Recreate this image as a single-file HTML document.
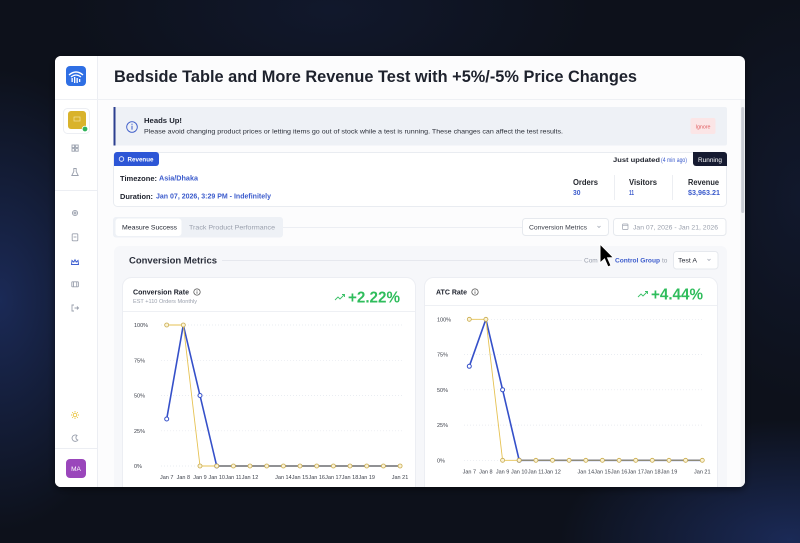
<!DOCTYPE html>
<html><head><meta charset="utf-8"><style>
html,body{margin:0;padding:0;}
body{width:800px;height:543px;overflow:hidden;background:#0d111b;
background-image:
radial-gradient(ellipse 140px 230px at 0px 300px, rgba(38,62,135,0.55), rgba(0,0,0,0)),
radial-gradient(ellipse 230px 120px at 790px 540px, rgba(38,62,135,0.55), rgba(0,0,0,0)),
radial-gradient(ellipse 260px 120px at 330px 10px, rgba(30,45,95,0.25), rgba(0,0,0,0)),
radial-gradient(ellipse 120px 200px at 800px 200px, rgba(30,45,95,0.25), rgba(0,0,0,0));}
svg{position:absolute;left:0;top:0;font-family:"Liberation Sans",sans-serif;}
</style></head><body>
<svg width="800" height="543" viewBox="0 0 800 543" xmlns="http://www.w3.org/2000/svg">
<defs>
<clipPath id="win"><rect x="55" y="56" width="690" height="431" rx="6"/></clipPath>
<filter id="sh" x="-10%" y="-10%" width="120%" height="120%"><feDropShadow dx="0" dy="2" stdDeviation="4" flood-color="#000" flood-opacity="0.5"/></filter>
</defs>
<rect x="55" y="56" width="690" height="431" rx="6" fill="#fcfcfd" filter="url(#sh)"/>
<g clip-path="url(#win)">
<!-- sidebar -->
<rect x="55" y="56" width="42" height="431" fill="#ffffff"/>
<line x1="97.5" y1="56" x2="97.5" y2="487" stroke="#eceef3" stroke-width="1"/>
<line x1="55" y1="99.5" x2="745" y2="99.5" stroke="#eef0f4" stroke-width="1"/>
<line x1="55" y1="190.5" x2="97" y2="190.5" stroke="#eceef3"/>
<line x1="55" y1="448.5" x2="97" y2="448.5" stroke="#eceef3"/>
<!-- logo -->
<rect x="66" y="66" width="20" height="20" rx="4" fill="#2f6fe4"/>
<path d="M69 75 Q76 69 83 75" stroke="#fff" stroke-width="1.4" fill="none"/>
<path d="M71 77 Q76 73 81 77" stroke="#fff" stroke-width="1.2" fill="none"/>
<rect x="71.5" y="78" width="1.3" height="4" fill="#fff"/><rect x="74" y="77" width="1.3" height="6" fill="#fff"/><rect x="76.5" y="78" width="1.3" height="5" fill="#fff"/><rect x="79" y="79" width="1.3" height="3" fill="#fff"/>
<!-- store avatar -->
<rect x="63.5" y="108.5" width="26" height="25" rx="4" fill="#fff" stroke="#eceef3"/>
<rect x="68" y="111" width="18" height="18" rx="3" fill="#d9b32c"/>
<rect x="74" y="117" width="6" height="4" fill="none" stroke="#f3e2a0" stroke-width="0.7"/>
<circle cx="85" cy="129" r="2.8" fill="#2fb35a" stroke="#fff" stroke-width="0.8"/>
<!-- icons -->
<g stroke="#9aa0ad" stroke-width="0.9" fill="none">
<rect x="72" y="145" width="2.6" height="2.6"/><rect x="75.6" y="145" width="2.6" height="2.6"/><rect x="72" y="148.6" width="2.6" height="2.6"/><rect x="75.6" y="148.6" width="2.6" height="2.6"/>
<path d="M73.8 168.5 v3 l-2 4 h6.4 l-2 -4 v-3 z"/>
<circle cx="75" cy="213" r="2.6"/><circle cx="75" cy="213" r="1"/>
<rect x="72.2" y="233.8" width="5.6" height="7" rx="0.8"/><line x1="73.6" y1="237" x2="76.4" y2="237"/>
<rect x="71.8" y="281.8" width="6.6" height="5" rx="0.6"/><line x1="73.5" y1="281.8" x2="73.5" y2="286.8"/><line x1="76.7" y1="281.8" x2="76.7" y2="286.8"/>
<path d="M74 305 h-2 v6 h2 M74.5 308 h4 M77 306.5 l1.5 1.5 l-1.5 1.5"/>
<path d="M77 435.5 a3.2 3.2 0 1 0 0.8 4.6 a2.6 2.6 0 0 1 -0.8 -4.6 z"/>
</g>
<path d="M71.5 264.5 l0.5 -4 l1.8 1.6 l1.2 -2.3 l1.2 2.3 l1.8 -1.6 l0.5 4 z" fill="none" stroke="#3e5fd0" stroke-width="1"/>
<g stroke="#e8c23a" stroke-width="0.9" fill="none"><circle cx="75" cy="415" r="1.8"/><path d="M75 411 v1 M75 418 v1 M71 415 h1 M78 415 h1 M72.2 412.2 l0.7 0.7 M77.1 417.1 l0.7 0.7 M72.2 417.8 l0.7 -0.7 M77.1 412.9 l0.7 -0.7"/></g>
<rect x="66" y="459" width="20" height="19" rx="4" fill="#9a46bb"/>
<text x="76" y="471" font-size="6.5" fill="#fff" text-anchor="middle">MA</text>

<!-- title -->
<text x="114" y="82" font-size="17" font-weight="bold" fill="#1e222d" textLength="523" lengthAdjust="spacingAndGlyphs">Bedside Table and More Revenue Test with +5%/-5% Price Changes</text>

<!-- banner -->
<rect x="114" y="107" width="613" height="38.5" rx="2" fill="#eef1f6"/>
<rect x="113.5" y="107" width="2" height="38.5" fill="#2c3f90"/>
<circle cx="132" cy="127" r="5.3" fill="none" stroke="#3d5cc9" stroke-width="0.9"/>
<line x1="132" y1="125.8" x2="132" y2="129.6" stroke="#3d5cc9" stroke-width="1"/><circle cx="132" cy="124.2" r="0.6" fill="#3d5cc9"/>
<text x="144" y="123" font-size="7.5" font-weight="bold" fill="#1e222d" textLength="38" lengthAdjust="spacingAndGlyphs">Heads Up!</text>
<text x="144" y="133.6" font-size="6.5" fill="#2a2e38" textLength="419" lengthAdjust="spacingAndGlyphs">Please avoid changing product prices or letting items go out of stock while a test is running. These changes can affect the test results.</text>
<rect x="690.5" y="118" width="25" height="16" rx="2" fill="#fbe5e6"/>
<text x="703" y="128.3" font-size="5.3" fill="#e05a5e" text-anchor="middle">Ignore</text>

<!-- info card -->
<rect x="113.5" y="152.5" width="613" height="54" rx="4" fill="#fff" stroke="#e9ecf1"/>
<path d="M117 152 h39 a3 3 0 0 1 3 3 v8 a3 3 0 0 1 -3 3 h-42 v-11 a3 3 0 0 1 3 -3 z" fill="#2d56d6"/>
<circle cx="121.5" cy="159" r="2.3" fill="none" stroke="#fff" stroke-width="0.8"/>
<text x="127.5" y="161.6" font-size="6.3" font-weight="bold" fill="#fff" textLength="26" lengthAdjust="spacingAndGlyphs">Revenue</text>
<text x="120" y="180.8" font-size="7.5" font-weight="bold" fill="#1e222d" textLength="37" lengthAdjust="spacingAndGlyphs">Timezone:</text>
<text x="159" y="180.6" font-size="7" font-weight="bold" fill="#3b5bcc" textLength="39" lengthAdjust="spacingAndGlyphs">Asia/Dhaka</text>
<text x="120" y="198.8" font-size="7.5" font-weight="bold" fill="#1e222d" textLength="33" lengthAdjust="spacingAndGlyphs">Duration:</text>
<text x="156" y="198.6" font-size="7" font-weight="bold" fill="#3b5bcc" textLength="115" lengthAdjust="spacingAndGlyphs">Jan 07, 2026, 3:29 PM - Indefinitely</text>
<text x="613" y="162.2" font-size="6.3" font-weight="bold" fill="#1e222d" textLength="47" lengthAdjust="spacingAndGlyphs">Just updated</text>
<text x="661" y="162.2" font-size="6.3" fill="#3b5bcc" textLength="26" lengthAdjust="spacingAndGlyphs">(4 min ago)</text>
<path d="M693 152 h31 a3 3 0 0 1 3 3 v11 h-31 a3 3 0 0 1 -3 -3 z" fill="#161b31"/>
<text x="710" y="161.8" font-size="6.3" fill="#fff" text-anchor="middle" textLength="24" lengthAdjust="spacingAndGlyphs">Running</text>
<text x="573" y="184.8" font-size="8" font-weight="bold" fill="#25282f" textLength="25" lengthAdjust="spacingAndGlyphs">Orders</text>
<text x="573" y="194.8" font-size="7" font-weight="bold" fill="#3b5bcc" textLength="7.5" lengthAdjust="spacingAndGlyphs">30</text>
<text x="629" y="184.8" font-size="8" font-weight="bold" fill="#25282f" textLength="28" lengthAdjust="spacingAndGlyphs">Visitors</text>
<text x="629" y="194.8" font-size="7" font-weight="bold" fill="#3b5bcc" textLength="5" lengthAdjust="spacingAndGlyphs">11</text>
<text x="688" y="184.8" font-size="8" font-weight="bold" fill="#25282f" textLength="31" lengthAdjust="spacingAndGlyphs">Revenue</text>
<text x="688" y="194.8" font-size="7" font-weight="bold" fill="#3b5bcc" textLength="32" lengthAdjust="spacingAndGlyphs">$3,963.21</text>
<line x1="614.5" y1="175" x2="614.5" y2="200" stroke="#eceef2"/>
<line x1="672.5" y1="175" x2="672.5" y2="200" stroke="#eceef2"/>

<!-- tabs row -->
<line x1="283" y1="227.5" x2="522" y2="227.5" stroke="#eceef3"/>
<rect x="113" y="217" width="170" height="20.5" rx="3" fill="#eef1f6"/>
<rect x="115.5" y="218.5" width="66" height="17.5" rx="3" fill="#fff"/>
<text x="122" y="229.7" font-size="6.5" fill="#1e222d" textLength="55" lengthAdjust="spacingAndGlyphs">Measure Success</text>
<text x="189" y="229.7" font-size="6.5" fill="#9aa0ad" textLength="86" lengthAdjust="spacingAndGlyphs">Track Product Performance</text>
<rect x="522.5" y="218.5" width="86" height="17" rx="3" fill="#fff" stroke="#e6e9ee"/>
<text x="529" y="229.5" font-size="6.3" fill="#3a3e48" textLength="58" lengthAdjust="spacingAndGlyphs">Conversion Metrics</text>
<path d="M597.5 226 l1.5 1.5 l1.5 -1.5" stroke="#9aa0ad" stroke-width="0.7" fill="none"/>
<rect x="613.5" y="218.5" width="112.5" height="17" rx="3" fill="#fff" stroke="#e6e9ee"/>
<rect x="622.5" y="224" width="5.5" height="5.5" rx="0.8" fill="none" stroke="#9aa0ad" stroke-width="0.7"/>
<line x1="622.5" y1="225.6" x2="628" y2="225.6" stroke="#9aa0ad" stroke-width="0.6"/>
<text x="633" y="229.5" font-size="6.3" fill="#9aa0ad" textLength="85" lengthAdjust="spacingAndGlyphs">Jan 07, 2026 - Jan 21, 2026</text>

<!-- section panel -->
<rect x="114" y="246" width="613" height="260" rx="6" fill="#f6f7fa"/>
<text x="129" y="263.5" font-size="9.5" font-weight="bold" fill="#2a2e3a" textLength="88" lengthAdjust="spacingAndGlyphs">Conversion Metrics</text>
<line x1="222" y1="260.5" x2="582" y2="260.5" stroke="#e6e8ee"/>
<text x="584" y="262.3" font-size="6.5" fill="#9aa0ad">Com</text>
<text x="615" y="262.3" font-size="6.5" font-weight="bold" fill="#3b5bcc" textLength="45" lengthAdjust="spacingAndGlyphs">Control Group</text>
<text x="662" y="262.3" font-size="6.5" fill="#9aa0ad">to</text>
<rect x="673.5" y="251.5" width="44.5" height="17.5" rx="3" fill="#fff" stroke="#e6e9ee"/>
<text x="678" y="262.5" font-size="6.5" fill="#2a2e38" textLength="19" lengthAdjust="spacingAndGlyphs">Test A</text>
<path d="M707.5 259 l1.5 1.5 l1.5 -1.5" stroke="#9aa0ad" stroke-width="0.7" fill="none"/>

<!-- left card -->
<rect x="122.5" y="277.5" width="293" height="240" rx="9" fill="#fff" stroke="#eceef3"/>
<text x="133" y="294.7" font-size="7.5" font-weight="bold" fill="#1e222d" textLength="56" lengthAdjust="spacingAndGlyphs">Conversion Rate</text>
<circle cx="197" cy="292" r="3.2" fill="none" stroke="#444" stroke-width="0.7"/><line x1="197" y1="291.4" x2="197" y2="293.8" stroke="#444" stroke-width="0.7"/><circle cx="197" cy="290.2" r="0.4" fill="#444"/>
<text x="133" y="303" font-size="5.3" fill="#9aa0ad" textLength="64" lengthAdjust="spacingAndGlyphs">EST +110 Orders Monthly</text>
<path d="M335 300 l3 -3 l2 2 l4.5 -4.5 M342 294.5 h2.5 v2.5" stroke="#39c066" stroke-width="0.9" fill="none"/>
<text x="348" y="302.7" font-size="15.5" font-weight="bold" fill="#2fbd5c" textLength="52" lengthAdjust="spacingAndGlyphs">+2.22%</text>
<line x1="123" y1="311.5" x2="415" y2="311.5" stroke="#eef0f4"/>
<g stroke="#e4e7ee" stroke-width="0.7" stroke-dasharray="1 2">
<line x1="161" y1="325" x2="402" y2="325"/><line x1="161" y1="360.3" x2="402" y2="360.3"/><line x1="161" y1="395.5" x2="402" y2="395.5"/><line x1="161" y1="430.8" x2="402" y2="430.8"/><line x1="161" y1="466" x2="402" y2="466"/>
</g>
<g font-size="5.5" fill="#3a3e48">
<text x="134" y="327">100%</text><text x="134" y="362.3">75%</text><text x="134" y="397.5">50%</text><text x="134" y="432.8">25%</text><text x="134" y="468">0%</text>
</g>
<g font-size="5.5" fill="#3a3e48" text-anchor="middle">
<text x="166.7" y="478.8">Jan 7</text><text x="183.3" y="478.8">Jan 8</text><text x="200" y="478.8">Jan 9</text><text x="216.7" y="478.8">Jan 10</text><text x="233.4" y="478.8">Jan 11</text><text x="250" y="478.8">Jan 12</text><text x="283.4" y="478.8">Jan 14</text><text x="300" y="478.8">Jan 15</text><text x="316.7" y="478.8">Jan 16</text><text x="333.4" y="478.8">Jan 17</text><text x="350" y="478.8">Jan 18</text><text x="366.7" y="478.8">Jan 19</text><text x="400" y="478.8">Jan 21</text>
</g>
<polyline points="166.7,419 183.3,325 200,395.5 216.7,466 400.1,466" fill="none" stroke="#3550c9" stroke-width="1.6" stroke-linejoin="round"/>
<g fill="#fff" stroke="#3550c9" stroke-width="1"><circle cx="166.7" cy="419" r="2"/><circle cx="200" cy="395.5" r="2"/><circle cx="216.7" cy="466" r="2"/></g>
<polyline points="166.7,325 183.3,325 200,466 400.1,466" fill="none" stroke="#e6c253" stroke-width="0.9" stroke-linejoin="round"/>
<line x1="216.7" y1="466" x2="400.1" y2="466" stroke="#8d8a7a" stroke-width="1.4"/>
<g fill="#fbf3d6" stroke="#c9ab4c" stroke-width="0.8">
<circle cx="166.7" cy="325" r="2"/><circle cx="183.3" cy="325" r="2"/><circle cx="200" cy="466" r="2"/><circle cx="216.7" cy="466" r="2"/><circle cx="233.4" cy="466" r="2"/><circle cx="250" cy="466" r="2"/><circle cx="266.7" cy="466" r="2"/><circle cx="283.4" cy="466" r="2"/><circle cx="300" cy="466" r="2"/><circle cx="316.7" cy="466" r="2"/><circle cx="333.4" cy="466" r="2"/><circle cx="350" cy="466" r="2"/><circle cx="366.7" cy="466" r="2"/><circle cx="383.4" cy="466" r="2"/><circle cx="400.1" cy="466" r="2"/>
</g>

<!-- right card -->
<rect x="424.5" y="277.5" width="293" height="240" rx="9" fill="#fff" stroke="#eceef3"/>
<text x="436" y="294.7" font-size="7.5" font-weight="bold" fill="#1e222d" textLength="31" lengthAdjust="spacingAndGlyphs">ATC Rate</text>
<circle cx="475" cy="292" r="3.2" fill="none" stroke="#444" stroke-width="0.7"/><line x1="475" y1="291.4" x2="475" y2="293.8" stroke="#444" stroke-width="0.7"/><circle cx="475" cy="290.2" r="0.4" fill="#444"/>
<path d="M638 297 l3 -3 l2 2 l4.5 -4.5 M645 291.5 h2.5 v2.5" stroke="#39c066" stroke-width="0.9" fill="none"/>
<text x="651" y="299.5" font-size="15.5" font-weight="bold" fill="#2fbd5c" textLength="52" lengthAdjust="spacingAndGlyphs">+4.44%</text>
<line x1="425" y1="305.5" x2="717" y2="305.5" stroke="#eef0f4"/>
<g stroke="#e4e7ee" stroke-width="0.7" stroke-dasharray="1 2">
<line x1="464" y1="319.3" x2="704" y2="319.3"/><line x1="464" y1="354.6" x2="704" y2="354.6"/><line x1="464" y1="389.8" x2="704" y2="389.8"/><line x1="464" y1="425.1" x2="704" y2="425.1"/><line x1="464" y1="460.3" x2="704" y2="460.3"/>
</g>
<g font-size="5.5" fill="#3a3e48">
<text x="437" y="321.3">100%</text><text x="437" y="356.6">75%</text><text x="437" y="391.8">50%</text><text x="437" y="427.1">25%</text><text x="437" y="462.3">0%</text>
</g>
<g font-size="5.5" fill="#3a3e48" text-anchor="middle">
<text x="469.3" y="473.6">Jan 7</text><text x="485.9" y="473.6">Jan 8</text><text x="502.6" y="473.6">Jan 9</text><text x="519.2" y="473.6">Jan 10</text><text x="535.9" y="473.6">Jan 11</text><text x="552.5" y="473.6">Jan 12</text><text x="585.8" y="473.6">Jan 14</text><text x="602.4" y="473.6">Jan 15</text><text x="619.1" y="473.6">Jan 16</text><text x="635.7" y="473.6">Jan 17</text><text x="652.3" y="473.6">Jan 18</text><text x="669" y="473.6">Jan 19</text><text x="702.3" y="473.6">Jan 21</text>
</g>
<polyline points="469.3,366.3 485.9,319.3 502.6,389.8 519.2,460.3 702.3,460.3" fill="none" stroke="#3550c9" stroke-width="1.6" stroke-linejoin="round"/>
<g fill="#fff" stroke="#3550c9" stroke-width="1"><circle cx="469.3" cy="366.3" r="2"/><circle cx="502.6" cy="389.8" r="2"/><circle cx="519.2" cy="460.3" r="2"/></g>
<polyline points="469.3,319.3 485.9,319.3 502.6,460.3 702.3,460.3" fill="none" stroke="#e6c253" stroke-width="0.9" stroke-linejoin="round"/>
<line x1="519.2" y1="460.3" x2="702.3" y2="460.3" stroke="#8d8a7a" stroke-width="1.4"/>
<g fill="#fbf3d6" stroke="#c9ab4c" stroke-width="0.8">
<circle cx="469.3" cy="319.3" r="2"/><circle cx="485.9" cy="319.3" r="2"/><circle cx="502.6" cy="460.3" r="2"/><circle cx="519.2" cy="460.3" r="2"/><circle cx="535.9" cy="460.3" r="2"/><circle cx="552.5" cy="460.3" r="2"/><circle cx="569.1" cy="460.3" r="2"/><circle cx="585.8" cy="460.3" r="2"/><circle cx="602.4" cy="460.3" r="2"/><circle cx="619.1" cy="460.3" r="2"/><circle cx="635.7" cy="460.3" r="2"/><circle cx="652.3" cy="460.3" r="2"/><circle cx="669" cy="460.3" r="2"/><circle cx="685.6" cy="460.3" r="2"/><circle cx="702.3" cy="460.3" r="2"/>
</g>

<!-- scrollbar -->
<rect x="740.5" y="100" width="4.5" height="387" fill="#f3f4f6"/>
<rect x="741.2" y="107" width="3" height="106" rx="1.5" fill="#c9ccd3"/>
</g>

<!-- cursor -->
<path d="M600 244 L600 263 L604.5 259 L608 267 L611 265.6 L607.6 257.8 L613.5 257.6 Z" fill="#000" stroke="#fff" stroke-width="1"/>
</svg>
</body></html>
